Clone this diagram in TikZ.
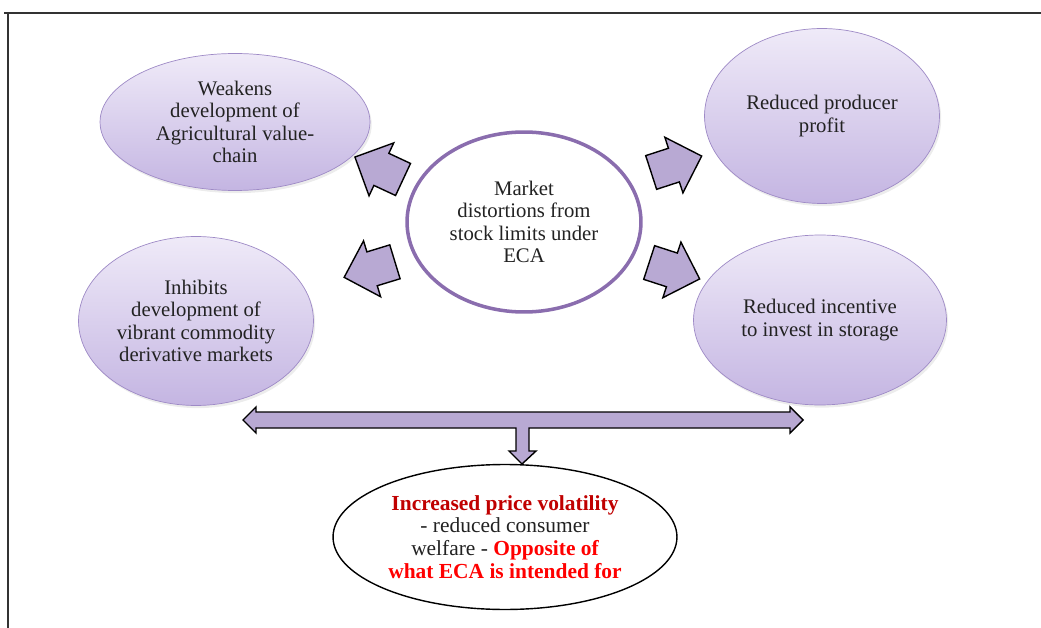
\documentclass[tikz,border=0pt]{standalone}
\usepackage{fontspec}
\setmainfont{Liberation Serif}
\usetikzlibrary{shapes.geometric,shapes.arrows,shadows}
\definecolor{lavtop}{HTML}{EFEAF8}
\definecolor{lavbot}{HTML}{C4B5E2}
\definecolor{lavline}{HTML}{9E8AC6}
\definecolor{ringline}{HTML}{8A6DAE}
\definecolor{arrfill}{HTML}{B8A9D3}
\definecolor{darkred}{HTML}{C00000}
\definecolor{txtgray}{HTML}{222222}
\begin{document}
\begin{tikzpicture}[x=0.02cm, y=-0.02cm,
  effect/.style={ellipse, draw=lavline, thin, top color=lavtop, bottom color=lavbot,
                 align=center, text=txtgray, inner sep=0pt,
                 font=\fontsize{11.8}{12.7}\selectfont,
                 drop shadow={opacity=0.15, shadow xshift=1pt, shadow yshift=-1.5pt}},
  bigarr/.style={single arrow, draw=black, fill=arrfill, line width=0.8pt,
                 minimum height=0.98cm, minimum width=1.15cm, inner sep=0.34cm,
                 single arrow head extend=0.23cm},
]
  \useasboundingbox (0,0) rectangle (1041,628);
  % frame
  \draw[line width=1.2pt, black!80] (4,13) -- (1041,13);
  \draw[line width=1.2pt, black!80] (8,13) -- (8,628);

  % outer effects
  \node[effect, minimum width=5.4cm, minimum height=2.74cm] (chain) at (235,122)
    {Weakens\\development of\\Agricultural value-\\chain};
  \node[effect, minimum width=4.7cm, minimum height=3.38cm] (deriv) at (196,321)
    {Inhibits\\development of\\vibrant commodity\\derivative markets};
  \node[effect, minimum width=4.7cm, minimum height=3.5cm] (profit) at (822,116)
    {Reduced producer\\profit};
  \node[effect, minimum width=5.06cm, minimum height=3.4cm] (storage) at (820,320)
    {Reduced incentive\\to invest in storage};

  % centre
  \node[ellipse, draw=ringline, line width=2pt, fill=white, align=center, text=txtgray,
        minimum width=4.68cm, minimum height=3.6cm, inner sep=0pt,
        font=\fontsize{11.8}{12.7}\selectfont] (eca) at (524,222)
    {Market\\distortions from\\stock limits under\\ECA};

  % block arrows
  \node[bigarr, rotate=155] (a1) at (387,172) {};
  \node[bigarr, rotate=197] (a2) at (378,267) {};
  \node[bigarr, rotate=18] (a3) at (668,167) {};
  \node[bigarr, rotate=-18] (a4) at (666,268) {};

  % T-shaped arrow
  \draw[fill=arrfill, line width=0.8pt, line join=miter]
    (243,420) -- (256,407) -- (256,412) -- (790,412) -- (790,407) -- (803,420)
    -- (790,433) -- (790,428) -- (529,428) -- (529,451) -- (536,451) -- (522,464)
    -- (509,451) -- (516,451) -- (516,428) -- (256,428) -- (256,433) -- cycle;

  % result
  \node[ellipse, draw=black, line width=0.8pt, fill=white, align=center, text=txtgray,
        minimum width=6.88cm, minimum height=2.9cm, inner sep=0pt,
        font=\fontsize{12.2}{13}\selectfont] (result) at (505,537)
    {{\bfseries\color{darkred}Increased price volatility}\\- reduced consumer\\
     welfare - {\bfseries\color{red}Opposite of}\\{\bfseries\color{red}what ECA is intended for}};
\end{tikzpicture}
\end{document}
